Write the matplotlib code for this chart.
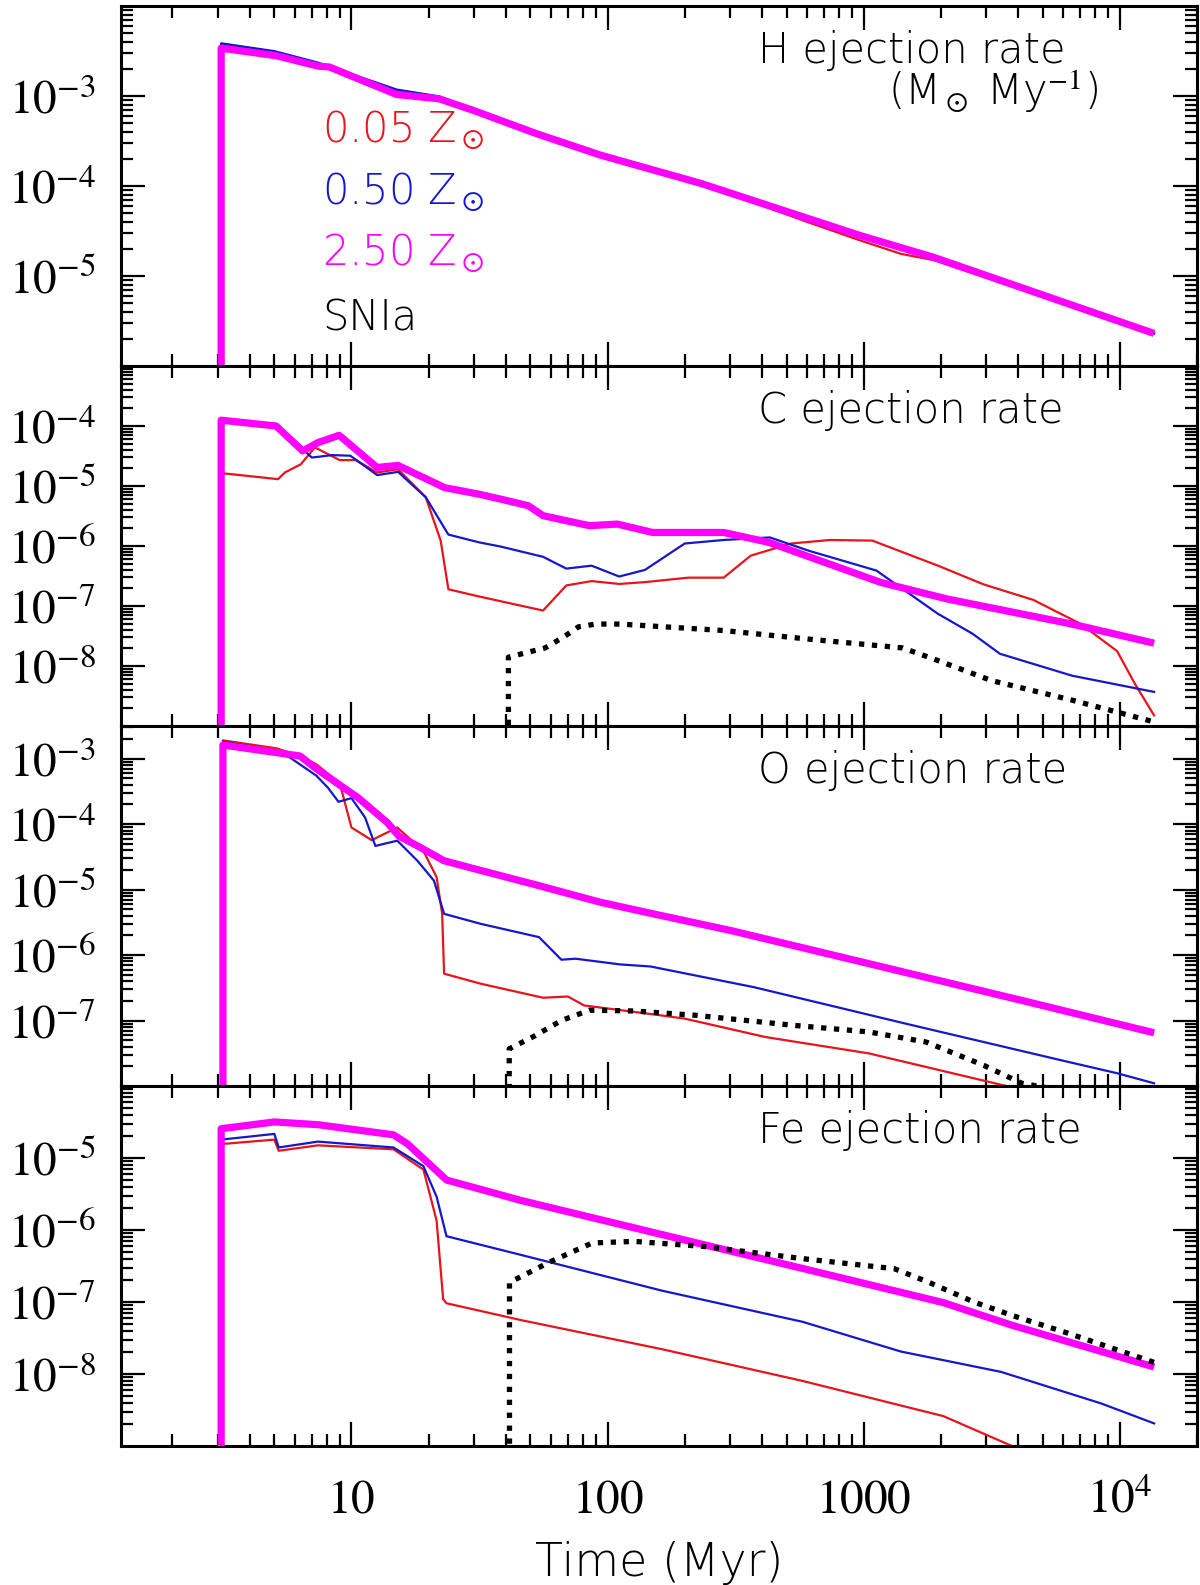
import numpy as np
import matplotlib
matplotlib.use('Agg')
import matplotlib.pyplot as plt
from matplotlib import ticker

plt.rcParams['mathtext.fontset'] = 'stix'

# ---- data (time in Myr, rates in Msun/Myr) ----
# H
t_H_red = [3.1, 3.1, 5.0, 7.4, 15, 22, 30, 53, 94, 231, 600, 975, 1400, 1880, 13600]
H_red = [1e-12, 3.8e-3, 3.1e-3, 2.3e-3, 1.16e-3, 9.8e-4, 7.0e-4, 3.85e-4, 2.2e-4, 1.07e-4, 4.0e-5, 2.47e-5, 1.76e-5, 1.5e-5, 2.3e-6]
t_H_blue = [3.1, 3.1, 5.0, 7.4, 15, 22, 30, 53, 94, 231, 975, 1880, 13600]
H_blue = [1e-12, 3.85e-3, 3.15e-3, 2.35e-3, 1.18e-3, 9.9e-4, 7.0e-4, 3.85e-4, 2.2e-4, 1.07e-4, 2.8e-5, 1.61e-5, 2.3e-6]
t_H_mag = [3.1, 3.1, 5.1, 7.4, 8.2, 15, 22, 30, 53, 94, 231, 975, 1880, 13600]
H_mag = [1e-12, 3.4e-3, 2.8e-3, 2.15e-3, 2.1e-3, 1.04e-3, 9.3e-4, 6.9e-4, 3.8e-4, 2.2e-4, 1.07e-4, 2.8e-5, 1.61e-5, 2.3e-6]

# C
t_C_red = [3.1, 3.1, 5.17, 5.5, 6.34, 7.2, 9.0, 10.4, 12.6, 15.2, 19.5, 22.3, 23.9, 31.5, 56, 69,
           86.6, 111, 140, 207, 284, 362, 520, 740, 1080, 1950, 2930, 4600, 7050, 9750, 11460, 13600]
C_red = [1e-12, 1.64e-5, 1.3e-5, 1.68e-5, 2.3e-5, 4.4e-5, 2.7e-5, 2.7e-5, 1.68e-5, 1.9e-5, 6.5e-6, 1.23e-6,
         1.9e-7, 1.44e-7, 8.4e-8, 2.2e-7, 2.6e-7, 2.33e-7, 2.5e-7, 2.97e-7, 2.97e-7, 6.9e-7, 1.1e-6, 1.26e-6,
         1.23e-6, 4.7e-7, 2.3e-7, 1.26e-7, 5.0e-8, 1.77e-8, 5.0e-9, 1.5e-9]
t_C_blue = [3.1, 3.1, 5.08, 6.0, 6.68, 7.0, 8.4, 9.9, 12.6, 15.2, 19.5, 23.9, 31.5, 38.2, 56, 69, 86.6,
            111, 140, 200, 284, 430, 612, 1120, 1950, 2660, 3400, 6500, 13600]
C_blue = [1e-12, 1.25e-4, 1.0e-4, 5.2e-5, 3.6e-5, 2.98e-5, 3.27e-5, 3.2e-5, 1.52e-5, 1.72e-5, 6.5e-6, 1.55e-6,
          1.15e-6, 9.8e-7, 6.6e-7, 4.2e-7, 4.7e-7, 3.1e-7, 4.0e-7, 1.1e-6, 1.26e-6, 1.39e-6, 8.3e-7, 3.9e-7,
          7.4e-8, 3.45e-8, 1.6e-8, 6.9e-9, 3.7e-9]
t_C_mag = [3.1, 3.1, 5.08, 6.45, 7.41, 8.95, 12.6, 15.2, 23.1, 31.5, 38.2, 49, 56, 85, 109, 150, 284,
           426, 1162, 2115, 6500, 13600]
C_mag = [1e-12, 1.25e-4, 1.0e-4, 3.85e-5, 5.3e-5, 7.0e-5, 2.04e-5, 2.2e-5, 9.4e-6, 7.3e-6, 6.05e-6, 4.7e-6,
         3.2e-6, 2.18e-6, 2.32e-6, 1.68e-6, 1.68e-6, 1.15e-6, 2.48e-7, 1.31e-7, 5.0e-8, 2.4e-8]
t_C_snia = [41, 41, 57, 67, 77, 90, 112, 284, 612, 1420, 1950, 3160, 6500, 13600]
C_snia = [1e-12, 1.4e-8, 2.0e-8, 3.0e-8, 4.5e-8, 5.0e-8, 5.0e-8, 3.9e-8, 2.8e-8, 2.0e-8, 1.23e-8, 5.7e-9,
          2.7e-9, 1.17e-9]

# O
t_O_red = [3.15, 3.15, 5.1, 6.3, 7.3, 8.6, 9.1, 10, 12.0, 15.1, 19.1, 21.5, 22.6, 23, 32, 56, 70, 81,
           147, 200, 413, 1047, 3250, 13600]
O_red = [1e-12, 1.91e-3, 1.44e-3, 1.1e-3, 8.2e-4, 4.9e-4, 3.6e-4, 8.9e-5, 5.7e-5, 8.9e-5, 3.9e-5, 1.55e-5,
         4.3e-6, 5.2e-7, 3.65e-7, 2.23e-7, 2.33e-7, 1.7e-7, 1.26e-7, 1.07e-7, 5.6e-8, 3.15e-8, 1.1e-8, 2.9e-9]
t_O_blue = [3.15, 3.15, 5.1, 5.8, 7.3, 8.1, 8.9, 10, 11.3, 12.4, 15.1, 18.1, 21, 23, 32, 54, 66, 75,
            112, 147, 372, 1470, 5830, 9800, 13600]
O_blue = [1e-12, 1.82e-3, 1.32e-3, 1.02e-3, 5.5e-4, 3.6e-4, 2.2e-4, 2.5e-4, 1.27e-4, 4.65e-5, 5.6e-5, 2.76e-5,
          1.37e-5, 4.27e-6, 3.0e-6, 1.88e-6, 8.5e-7, 8.8e-7, 7.2e-7, 6.7e-7, 3.24e-7, 8.9e-8, 2.5e-8,
          1.56e-8, 1.1e-8]
t_O_mag = [3.15, 3.15, 5.1, 6.3, 7.2, 9.1, 10.6, 13.8, 15.3, 18.6, 23.0, 32.2, 51, 94, 147, 303, 1047,
           4140, 13600]
O_mag = [1e-12, 1.62e-3, 1.24e-3, 1.1e-3, 7.3e-4, 3.85e-4, 2.55e-4, 1.06e-4, 6.6e-5, 4.4e-5, 2.76e-5,
         1.95e-5, 1.22e-5, 6.4e-6, 4.36e-6, 2.37e-6, 7.4e-7, 2.03e-7, 6.5e-8]
t_O_snia = [41.3, 41.3, 51, 66, 85, 127, 222, 525, 1047, 1750, 2940, 4140, 6500, 13600]
O_snia = [1e-12, 3.7e-8, 5.6e-8, 1.0e-7, 1.44e-7, 1.4e-7, 1.2e-7, 8.5e-8, 6.7e-8, 4.7e-8, 2.07e-8, 1.1e-8,
          8e-9, 3.5e-9]

# Fe
t_Fe_red = [3.1, 3.1, 5.0, 5.2, 7.4, 14.6, 19.1, 21.5, 22.8, 23.5, 46, 164, 578, 2046, 3790, 13600]
Fe_red = [1e-12, 1.56e-5, 1.8e-5, 1.26e-5, 1.5e-5, 1.32e-5, 6.9e-6, 1.35e-6, 1.1e-7, 9.6e-8, 5.6e-8, 2.2e-8,
          8.0e-9, 2.6e-9, 1.0e-9, 2.3e-10]
t_Fe_blue = [3.1, 3.1, 5.0, 5.2, 7.4, 14.6, 19.1, 21.5, 23.5, 46, 164, 578, 1397, 3435, 8450, 13600]
Fe_blue = [1e-12, 1.8e-5, 2.16e-5, 1.4e-5, 1.69e-5, 1.4e-5, 7.7e-6, 2.9e-6, 8.2e-7, 4.5e-7, 1.43e-7, 5.3e-8,
           2.05e-8, 1.07e-8, 3.9e-9, 2.06e-9]
t_Fe_mag = [3.1, 3.1, 5.0, 7.4, 14.6, 16.6, 23.5, 46, 164, 578, 2046, 3760, 13600]
Fe_mag = [1e-12, 2.55e-5, 3.17e-5, 2.9e-5, 2.1e-5, 1.56e-5, 4.95e-6, 2.57e-6, 8.6e-7, 2.92e-7, 9.8e-8,
          4.8e-8, 1.25e-8]
t_Fe_snia = [41.4, 41.4, 59.5, 87, 127, 239, 578, 1316, 1800, 2690, 3850, 6250, 13600]
Fe_snia = [1e-12, 1.87e-7, 3.6e-7, 6.6e-7, 6.95e-7, 5.9e-7, 4.0e-7, 2.9e-7, 1.87e-7, 1.0e-7, 6.4e-8, 3.7e-8,
           1.45e-8]

panel_names = ['H ejection rate', 'C ejection rate', 'O ejection rate', 'Fe ejection rate']
ylims = [(1e-6, 1e-2), (1e-9, 1e-3), (1e-8, 10 ** -2.5), (1e-9, 1e-4)]
ymajor = [[1e-5, 1e-4, 1e-3], [1e-8, 1e-7, 1e-6, 1e-5, 1e-4],
          [1e-7, 1e-6, 1e-5, 1e-4, 1e-3], [1e-8, 1e-7, 1e-6, 1e-5]]
yticklabels = [[r'$10^{-5}$', r'$10^{-4}$', r'$10^{-3}$'],
               [r'$10^{-8}$', r'$10^{-7}$', r'$10^{-6}$', r'$10^{-5}$', r'$10^{-4}$'],
               [r'$10^{-7}$', r'$10^{-6}$', r'$10^{-5}$', r'$10^{-4}$', r'$10^{-3}$'],
               [r'$10^{-8}$', r'$10^{-7}$', r'$10^{-6}$', r'$10^{-5}$']]
xticks = [10, 100, 1000, 10000]
xticklabels = [r'$10$', r'$100$', r'$1000$', r'$10^4$']
legend_labels = [r'0.05 Z$_\odot$', r'0.50 Z$_\odot$', r'2.50 Z$_\odot$', 'SNIa']

red_series = [(t_H_red, H_red), (t_C_red, C_red), (t_O_red, O_red), (t_Fe_red, Fe_red)]
blue_series = [(t_H_blue, H_blue), (t_C_blue, C_blue), (t_O_blue, O_blue), (t_Fe_blue, Fe_blue)]
mag_series = [(t_H_mag, H_mag), (t_C_mag, C_mag), (t_O_mag, O_mag), (t_Fe_mag, Fe_mag)]
snia_series = [None, (t_C_snia, C_snia), (t_O_snia, O_snia), (t_Fe_snia, Fe_snia)]

RED = '#e8141c'
BLUE = '#1616cc'
MAG = '#ff00ff'
txtfont = dict(family='DejaVu Sans', weight=200)

fig = plt.figure(figsize=(12, 15.85), dpi=100)
left, right = 121 / 1200, 1197 / 1200
top, bottom = 1 - 6 / 1585, 1 - 1446 / 1585
h = (top - bottom) / 4

for i in range(4):
    ax = fig.add_axes([left, top - (i + 1) * h, right - left, h])
    ax.set_xscale('log')
    ax.set_yscale('log')

    ax.plot(*red_series[i], color=RED, lw=1.6, zorder=2)
    ax.plot(*blue_series[i], color=BLUE, lw=1.6, zorder=3)
    ax.plot(*mag_series[i], color=MAG, lw=5.2, zorder=4, solid_capstyle='butt')
    if snia_series[i] is not None:
        ax.plot(*snia_series[i], color='black', lw=3.8, dashes=(1.0, 1.45),
                dash_capstyle='butt', zorder=5)

    ax.set_xlim(1.26, 2.0e4)
    ax.set_ylim(*ylims[i])

    ax.xaxis.set_major_locator(ticker.FixedLocator(xticks))
    ax.xaxis.set_minor_locator(ticker.LogLocator(base=10, subs=np.arange(2, 10), numticks=20))
    ax.xaxis.set_minor_formatter(ticker.NullFormatter())
    ax.yaxis.set_major_locator(ticker.FixedLocator(ymajor[i]))
    ax.yaxis.set_minor_locator(ticker.LogLocator(base=10, subs=np.arange(2, 10), numticks=20))
    ax.yaxis.set_minor_formatter(ticker.NullFormatter())
    ax.set_yticklabels(yticklabels[i])

    ax.tick_params(which='both', direction='in', top=True, right=True, width=1.6, colors='black')
    ax.tick_params(which='major', length=17)
    ax.tick_params(which='minor', length=8.5)
    ax.tick_params(axis='y', labelsize=34, pad=18)
    for s in ax.spines.values():
        s.set_linewidth(2.2)

    if i < 3:
        ax.set_xticklabels([])
    else:
        ax.set_xticklabels(xticklabels)
        ax.tick_params(axis='x', labelsize=34, pad=48)
        for lbl in ax.get_xticklabels():
            lbl.set_verticalalignment('baseline')

    ax.text(0.592, 0.842, panel_names[i], transform=ax.transAxes, fontsize=30,
            va='baseline', ha='left', **txtfont)

    if i == 0:
        ax.text(0.713, 0.724, r'(M$_\odot$ My$^{-1}$)', transform=ax.transAxes,
                fontsize=30, va='baseline', ha='left', **txtfont)
        leg_y = [0.622, 0.450, 0.279, 0.098]
        for lab, col, yy in zip(legend_labels, [RED, BLUE, MAG, 'black'], leg_y):
            ax.text(0.187, yy, lab, color=col, transform=ax.transAxes, fontsize=30,
                    va='baseline', ha='left', **txtfont)

fig.text(0.549, 1 - 1576 / 1585, 'Time (Myr)', fontsize=33, ha='center', va='baseline', **txtfont)

fig.savefig('out.png', dpi=100)
